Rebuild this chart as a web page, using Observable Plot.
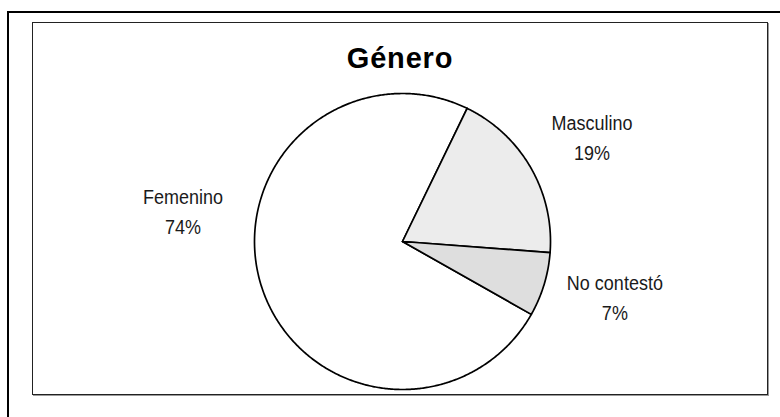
<!DOCTYPE html>
<html>
<head>
<meta charset="utf-8">
<script src="https://cdn.jsdelivr.net/npm/d3@7"></script>
<script src="https://cdn.jsdelivr.net/npm/@observablehq/plot@0.6"></script>
<style>
  html, body { margin: 0; padding: 0; background: #fff; }
  #wrap { position: relative; width: 780px; height: 417px; overflow: hidden; background: #fff; }
  #chart { position: absolute; left: 0; top: 0; }
  #outer { position: absolute; left: 7px; top: 11px; width: 800px; height: 430px;
           border-left: 2px solid #000; border-top: 2px solid #000; pointer-events: none; }
  #inner { position: absolute; left: 32px; top: 22px; width: 734px; height: 371px;
           border: 1.5px solid #222; box-shadow: 1px 1px 0 #9a9a9a; pointer-events: none; }
  #title { position: absolute; left: 0; width: 800px; top: 44px; text-align: center;
           font: bold 29px "Liberation Sans", Arial, sans-serif; line-height: 29px;
           letter-spacing: 0.8px; color: #000; transform: scaleY(1.02); }
</style>
</head>
<body>
<div id="wrap">
  <div id="chart"></div>
  <div id="outer"></div>
  <div id="inner"></div>
  <div id="title">Género</div>
</div>
<script>
// ---- data ----
const categories = ["Femenino", "Masculino", "No contestó"];
const percents = [74, 19, 7];
const pctLabels = ["74%", "19%", "7%"];

// ---- options ----
const startAngle = 119.5; // degrees, clockwise from 12 o'clock
const fills = {"Femenino": "#ffffff", "Masculino": "url(#pat-dots)", "No contestó": "url(#pat-lines)"};
const labelRadius = {"Femenino": 1.495, "Masculino": 1.455, "No contestó": 1.487};
const labelShift = {"Femenino": 24.5, "Masculino": 1.5, "No contestó": -1.7};
const labelStretch = 1.12; // vertical stretch of label glyphs

const total = d3.sum(percents);
let acc = startAngle;
const slices = categories.map((c, i) => {
  const a0 = acc;
  const a1 = acc + percents[i] / total * 360;
  acc = a1;
  return {cat: c, a0, a1, pct: pctLabels[i]};
});

const rad = d => d * Math.PI / 180;
function slicePoints(s) {
  const pts = [{x: 0, y: 0}];
  const n = Math.max(2, Math.ceil((s.a1 - s.a0) / 0.5));
  for (let k = 0; k <= n; k++) {
    const a = rad(s.a0 + (s.a1 - s.a0) * k / n);
    pts.push({x: Math.sin(a), y: Math.cos(a)});
  }
  pts.push({x: 0, y: 0});
  return pts;
}

const labels = slices.map(s => {
  const a = rad((s.a0 + s.a1) / 2 + labelShift[s.cat]);
  const r = labelRadius[s.cat];
  return {x: r * Math.sin(a), y: r * Math.cos(a), text: s.cat + "\n" + s.pct};
});

const plot = Plot.plot({
  width: 780,
  height: 417,
  margin: 0,
  style: {background: "transparent", overflow: "visible"},
  x: {domain: [-1, 1], range: [254, 550], axis: null},
  y: {domain: [-1, 1], range: [389, 93], axis: null},
  marks: [
    ...slices.map(s => Plot.line(slicePoints(s), {
      x: "x", y: "y", curve: "linear",
      fill: fills[s.cat], stroke: "#000", strokeWidth: 1.7, strokeLinejoin: "round"
    })),
    Plot.text(labels, {
      x: "x", y: "y", text: "text", dy: -4,
      fontSize: 18, lineHeight: 30 / labelStretch / 18, lineAnchor: "middle", textAnchor: "middle",
      fontFamily: "'Liberation Sans', Arial, sans-serif",
      fill: "#1a1a1a", className: "pie-labels"
    })
  ]
});

d3.select(plot).insert("defs", ":first-child").html(`
  <pattern id="pat-dots" patternUnits="userSpaceOnUse" width="2" height="2">
    <rect width="2" height="2" fill="#ffffff"/>
    <rect x="0" y="0" width="1" height="1" fill="#b4b4b4"/>
  </pattern>
  <pattern id="pat-lines" patternUnits="userSpaceOnUse" width="2" height="2">
    <rect width="2" height="2" fill="#ffffff"/>
    <rect x="0" y="0" width="2" height="1" fill="#bcbcbc"/>
  </pattern>
`);

// stretch label glyphs vertically (narrow, tall look of the original)
d3.select(plot).selectAll(".pie-labels text").each(function() {
  const t = d3.select(this);
  const tr = t.attr("transform") || "";
  t.attr("transform", tr + ` scale(1,${labelStretch})`);
});

document.getElementById("chart").appendChild(plot);
</script>
</body>
</html>
